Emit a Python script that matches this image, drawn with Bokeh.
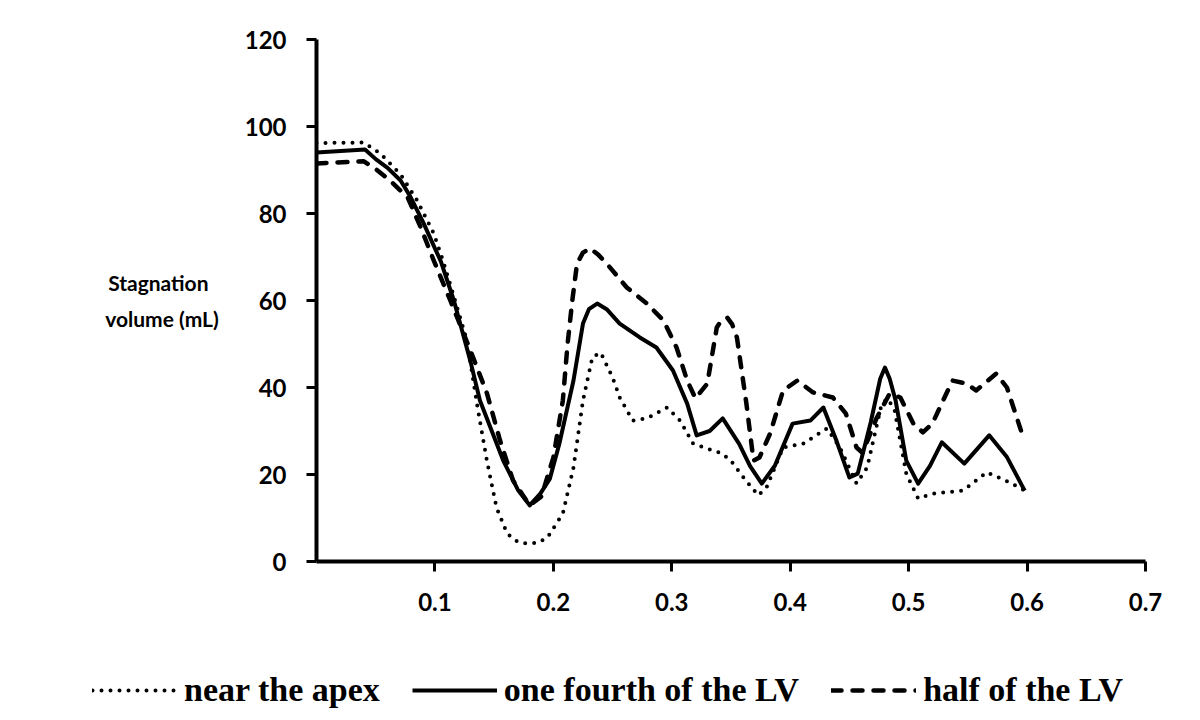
from bokeh.plotting import figure
from bokeh.models import Range1d, FixedTicker, Legend, LegendItem
from bokeh.embed import file_html
from bokeh.resources import INLINE

# near the apex (dotted)
apex_x = [0, 0.04, 0.054, 0.071, 0.085, 0.099, 0.107, 0.117, 0.127, 0.136, 0.144, 0.152,
          0.161, 0.17, 0.178, 0.187, 0.195, 0.208, 0.217, 0.225, 0.233, 0.24, 0.25, 0.256,
          0.267, 0.279, 0.296, 0.307, 0.318, 0.335, 0.343, 0.352, 0.358, 0.366, 0.373, 0.38,
          0.394, 0.411, 0.431, 0.442, 0.456, 0.465, 0.477, 0.482, 0.488, 0.498, 0.508, 0.52,
          0.546, 0.566, 0.585, 0.598]
apex_y = [96.2, 96.3, 93.8, 89, 83, 75.4, 69, 60, 50.8, 35.4, 23, 12.4,
          6.4, 4.5, 4.1, 4.3, 5.5, 11, 21.6, 37, 47, 48, 42.3, 37.7,
          32.4, 32.9, 35.4, 32.4, 27.1, 25.5, 24.8, 22.5, 20.2, 17.5, 15.2, 17,
          26.2, 27.1, 30.6, 26.2, 17.9, 21.6, 36, 37.5, 35, 20.2, 14.5, 15.6,
          16.3, 20.5, 18.2, 16.3]

# one fourth of the LV (solid)
fourth_x = [0, 0.041, 0.05, 0.06, 0.071, 0.079, 0.09, 0.1, 0.105, 0.116, 0.121, 0.13,
            0.138, 0.148, 0.158, 0.17, 0.18, 0.189, 0.197, 0.205, 0.217, 0.225, 0.23, 0.237,
            0.245, 0.256, 0.273, 0.287, 0.301, 0.313, 0.321, 0.332, 0.343, 0.357, 0.366, 0.376,
            0.387, 0.402, 0.417, 0.428, 0.439, 0.45, 0.457, 0.468, 0.476, 0.48, 0.484, 0.489,
            0.498, 0.508, 0.518, 0.528, 0.547, 0.568, 0.583, 0.598]
fourth_y = [94, 94.7, 92.5, 90.5, 87.6, 84, 78, 72, 69, 60, 55, 46,
            37, 30, 23, 16.5, 12.9, 15.6, 19, 27, 41.6, 54.7, 58, 59.3,
            58, 54.7, 51.5, 49.2, 43.9, 36.3, 29, 30, 32.9, 27, 22, 17.9,
            22, 31.7, 32.4, 35.4, 27.8, 19.3, 20.2, 32, 42, 44.6, 42, 37,
            23.2, 17.9, 22, 27.4, 22.5, 29, 24, 16.3]

# half of the LV (dashed)
half_x = [0, 0.04, 0.051, 0.062, 0.077, 0.088, 0.099, 0.113, 0.13, 0.144, 0.155, 0.166,
          0.18, 0.19, 0.2, 0.208, 0.212, 0.216, 0.22, 0.225, 0.231, 0.238, 0.245, 0.262,
          0.279, 0.293, 0.304, 0.313, 0.32, 0.33, 0.338, 0.342, 0.347, 0.351, 0.355, 0.363,
          0.369, 0.374, 0.383, 0.394, 0.406, 0.419, 0.436, 0.447, 0.456, 0.461, 0.473,
          0.484, 0.493, 0.504, 0.512, 0.52, 0.537, 0.549, 0.557, 0.574, 0.583, 0.595]
half_y = [91.5, 92, 90, 87.6, 83.7, 76.8, 69.2, 60, 48.5, 38.6, 27.8, 18.6,
          12.9, 15, 23.9, 37, 50, 60, 68.5, 71, 72, 70.5, 68.5, 63,
          59.3, 55.4, 49.2, 41.6, 37.5, 40.9, 53.8, 55.5, 56, 54.5, 51.5, 36.3,
          23.2, 23.9, 29.4, 39.3, 41.6, 38.9, 37.7, 34, 26.2, 25, 33,
          38.6, 37.7, 31.7, 29.7, 31.7, 41.6, 40.9, 39.3, 43.2, 40, 30]

x_ticks = [0.1, 0.2, 0.3, 0.4, 0.5, 0.6, 0.7]
y_ticks = [0, 20, 40, 60, 80, 100, 120]
series_names = ["near the apex", "one fourth of the LV", "half of the LV"]
y_label_text = "Stagnation\u00a0\u00a0\nvolume (mL)"

series = [(apex_x, apex_y), (fourth_x, fourth_y), (half_x, half_y)]
styles = [dict(line_color="black", line_width=4, line_dash="0 9", line_cap="round", line_join="round"),
          dict(line_color="black", line_width=4, line_join="round"),
          dict(line_color="black", line_width=4.5, line_dash="10 11", line_cap="round", line_join="round")]

p = figure(width=1192, height=636, output_backend="svg", toolbar_location=None,
           x_range=Range1d(0, 0.7), y_range=Range1d(0, 120),
           min_border_left=316, min_border_right=47, min_border_top=39, min_border_bottom=75)
p.outline_line_color = None
p.grid.visible = False

for (sx, sy), st in zip(series, styles):
    p.line(sx, sy, **st)

for ax in (p.xaxis[0], p.yaxis[0]):
    ax.axis_line_width = 4
    ax.axis_line_color = "black"
    ax.major_tick_line_width = 3
    ax.major_tick_out = 10
    ax.major_tick_in = 0
    ax.minor_tick_line_color = None
    ax.major_label_text_font = "Lato"
    ax.major_label_text_font_style = "bold"
    ax.major_label_text_font_size = "24px"
    ax.major_label_text_color = "black"

p.xaxis.ticker = FixedTicker(ticks=x_ticks)
p.yaxis.ticker = FixedTicker(ticks=y_ticks)
p.xaxis.major_label_standoff = 21
p.yaxis.major_label_standoff = 20

p.yaxis.axis_label = y_label_text
p.yaxis.axis_label_orientation = "horizontal"
p.yaxis.axis_label_text_font = "Lato"
p.yaxis.axis_label_text_font_style = "bold"
p.yaxis.axis_label_text_font_size = "21px"
p.yaxis.axis_label_text_color = "black"
p.yaxis.axis_label_text_line_height = 1.45
p.yaxis.axis_label_standoff = 23

# legend strip below the chart (the series are drawn off-view; only the legend shows)
lg = figure(width=1192, height=76, output_backend="svg", toolbar_location=None,
            x_range=Range1d(0, 0.7), y_range=Range1d(500, 501),
            min_border_left=0, min_border_right=0, min_border_top=0, min_border_bottom=0)
lg.outline_line_color = None
lg.grid.visible = False
lg.axis.visible = False
lr = [lg.line(sx, sy, **st) for (sx, sy), st in zip(series, styles)]

legend = Legend(items=[LegendItem(label=n, renderers=[r]) for n, r in zip(series_names, lr)],
                orientation="horizontal", location=(92, 3))
legend.label_text_font = "Liberation Serif"
legend.label_text_font_style = "bold"
legend.label_text_font_size = "34px"
legend.label_text_color = "black"
legend.glyph_width = 85
legend.glyph_height = 38
legend.label_standoff = 7
legend.spacing = 32
legend.padding = 0
legend.margin = 0
legend.border_line_color = None
legend.background_fill_alpha = 0
lg.add_layout(legend)

open("out.html", "w").write(file_html([p, lg], INLINE))
